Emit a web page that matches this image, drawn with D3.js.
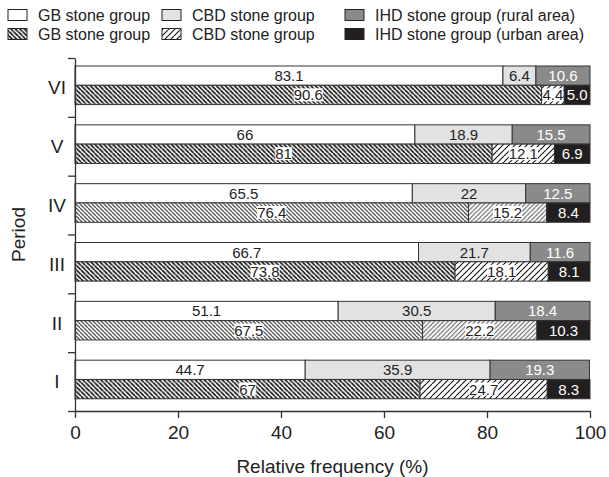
<!DOCTYPE html>
<meta charset="utf-8">
<style>
    body { margin: 0; background: #fff; }
    svg text { font-family: "Liberation Sans", Arial, sans-serif; fill: #222; }
</style>
<body>
<script src="https://cdn.jsdelivr.net/npm/d3@7"></script>
<script>

var periods = ["VI", "V", "IV", "III", "II", "I"];

// top bar of each period: GB, CBD, IHD (rural area)
var rural = [
  [83.1, 6.4, 10.6],
  [66, 18.9, 15.5],
  [65.5, 22, 12.5],
  [66.7, 21.7, 11.6],
  [51.1, 30.5, 18.4],
  [44.7, 35.9, 19.3]
];
// bottom bar of each period: GB, CBD, IHD (urban area)
var urban = [
  [90.6, 4.4, 5.0],
  [81, 12.1, 6.9],
  [76.4, 15.2, 8.4],
  [73.8, 18.1, 8.1],
  [67.5, 22.2, 10.3],
  [67, 24.7, 8.3]
];

var xTicks = [0, 20, 40, 60, 80, 100];
var legendLabels = [
  "GB stone group", "CBD stone group", "IHD stone group (rural area)",
  "GB stone group", "CBD stone group", "IHD stone group (urban area)"
];

var width = 609, height = 477;
var mLeft = 75, mRight = 590, mTop = 58, mBottom = 411;

var svg = d3.select("body").append("svg")
    .attr("width", width)
    .attr("height", height);

var defs = svg.append("defs");

function hatch(id, dir, size, color, sw) {
  var p = defs.append("pattern")
      .attr("id", id)
      .attr("patternUnits", "userSpaceOnUse")
      .attr("width", size).attr("height", size);
  p.append("rect").attr("width", size).attr("height", size).attr("fill", "#fff");
  var d;
  if (dir == "back") {
    d = "M0,0L" + size + "," + size + "M" + (-size) + ",0L0," + size + "M" + size + ",0L" + (2 * size) + "," + size;
  } else {
    d = "M0," + size + "L" + size + ",0M" + (-size) + "," + size + "L0,0M" + size + "," + size + "L" + (2 * size) + ",0";
  }
  p.append("path").attr("d", d).attr("stroke", color).attr("stroke-width", sw);
}
hatch("gbHatch", "back", 4.5, "#111", 1.7);
hatch("gbHatchGrey", "back", 4, "#555", 1.3);
hatch("cbdHatch", "fwd", 6, "#111", 1.1);
hatch("cbdHatchGrey", "fwd", 4.5, "#555", 1.1);

// these rows came out in a lighter grey hatch in the original
var greyRows = {"IV": true, "II": true};

var x = d3.scaleLinear().domain([0, 100]).range([mLeft, mRight]);
var y = d3.scaleBand().domain(periods).range([mTop, mBottom]);
var yLin = d3.scaleLinear().domain([0, periods.length]).range([mBottom, mTop]);

var barH = 19.3, barOff = 8;

function fills(p) {
  var g = greyRows[p];
  return {
    rural: ["#fff", "#e2e2e2", "#8a8a8a"],
    urban: [g ? "url(#gbHatchGrey)" : "url(#gbHatch)", g ? "url(#cbdHatchGrey)" : "url(#cbdHatch)", "#231f20"]
  };
}

var textCol = ["#222", "#222", "#fff"];

periods.forEach(function(p, i) {
  var f = fills(p);
  [rural[i], urban[i]].forEach(function(vals, row) {
    var y0 = y(p) + barOff + row * barH;
    var start = 0;
    vals.forEach(function(v, k) {
      var s = Math.min(start, 100), e = Math.min(start + v, 100);
      start += v;
      var fill = row == 0 ? f.rural[k] : f.urban[k];
      svg.append("rect")
          .attr("x", x(s)).attr("y", y0)
          .attr("width", x(e) - x(s)).attr("height", barH)
          .attr("fill", fill)
          .attr("stroke", "#333").attr("stroke-width", 1);
      var cx = (x(s) + x(e)) / 2, cy = y0 + barH / 2;
      var label = (p == "VI" && row == 1 && k == 2) ? v.toFixed(1) : String(v);
      var t = svg.append("text")
          .attr("x", cx).attr("y", cy)
          .attr("dy", "0.36em")
          .attr("text-anchor", "middle")
          .style("font-size", "15px")
          .style("fill", textCol[k])
          .text(label);
      if (row == 1 && k < 2) {
        var bb = t.node().getBBox();
        svg.insert("rect", function() { return t.node(); })
            .attr("x", bb.x).attr("y", bb.y + 2)
            .attr("width", bb.width).attr("height", bb.height - 4)
            .attr("fill", "#fff");
      }
    });
  });
});

// axes
var xAxis = svg.append("g")
    .attr("transform", "translate(0," + mBottom + ")")
    .call(d3.axisBottom(x).tickValues(xTicks).tickSize(7).tickSizeOuter(0).tickPadding(8));
xAxis.selectAll("text").style("font-size", "19px").style("fill", "#222");

svg.append("g")
    .attr("transform", "translate(" + mLeft + ",0)")
    .call(d3.axisLeft(yLin).ticks(periods.length).tickFormat("").tickSize(7).tickSizeOuter(0));

svg.selectAll(".domain, .tick line").attr("stroke", "#333").attr("stroke-width", 1.3);

svg.selectAll(".plabel")
    .data(periods)
  .enter().append("text")
    .attr("x", 57)
    .attr("y", function(d) { return y(d) + y.bandwidth() / 2; })
    .attr("dy", "0.36em")
    .attr("text-anchor", "middle")
    .style("font-size", "19px")
    .text(function(d) { return d; });

svg.append("text")
    .attr("transform", "translate(18," + ((mTop + mBottom) / 2) + ") rotate(-90)")
    .attr("dy", "0.36em")
    .attr("text-anchor", "middle")
    .style("font-size", "19px")
    .text("Period");

svg.append("text")
    .attr("x", (mLeft + mRight) / 2)
    .attr("y", 466)
    .attr("dy", "0.36em")
    .attr("text-anchor", "middle")
    .style("font-size", "19px")
    .text("Relative frequency (%)");

// legend
var legFill = ["#fff", "#e2e2e2", "#8a8a8a", "url(#gbHatch)", "url(#cbdHatch)", "#231f20"];
var colX = [8, 162, 345];
legendLabels.forEach(function(l, i) {
  var cx = colX[i % 3], cy = i < 3 ? 15 : 34;
  svg.append("rect")
      .attr("x", cx).attr("y", cy - 5.5)
      .attr("width", 19).attr("height", 11)
      .attr("fill", legFill[i])
      .attr("stroke", "#222").attr("stroke-width", 1);
  svg.append("text")
      .attr("x", cx + 30).attr("y", cy)
      .attr("dy", "0.36em")
      .style("font-size", "16px")
      .text(l);
});

</script>
</body>
